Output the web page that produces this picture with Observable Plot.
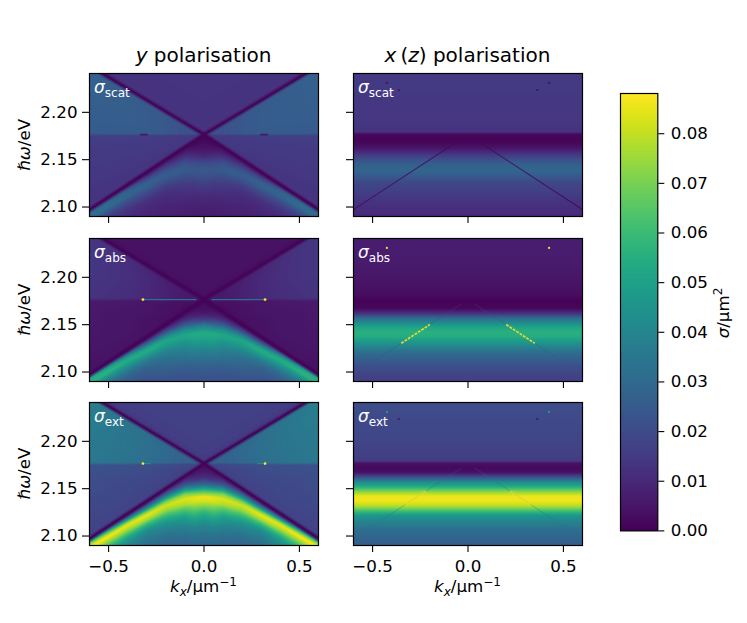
<!DOCTYPE html>
<html><head><meta charset="utf-8">
<script src="https://cdn.jsdelivr.net/npm/d3@7"></script>
<script src="https://cdn.jsdelivr.net/npm/@observablehq/plot@0.6"></script>
<style>
body{margin:0;background:#fff;}
#fig{position:relative;width:747px;height:623px;overflow:hidden;font-family:"DejaVu Sans";background:#fff;}
</style></head><body><div id="fig"></div>
<script>
// ---------- axes / tick data ----------
const VMAX = 88.1;                       // colour-bar top, in 10^-3 µm²
const kRange = [-0.6, 0.6];              // k_x / µm^-1
const eRange = [2.09, 2.241];            // ħω / eV
const xTicks = [-0.5, 0, 0.5];
const yTicks = [2.10, 2.15, 2.20];
const cbTicks = [0, 0.01, 0.02, 0.03, 0.04, 0.05, 0.06, 0.07, 0.08];

// ---------- dispersion lines (k, ħω) ----------
const lineK  = [-0.6, 0, 0.6];
const upperE = [2.2491, 2.1765, 2.2491];
const lowerE = [2.0973, 2.1765, 2.0973];

// ---------- y polarisation: values in 10^-3 µm² ----------
// bright band below the lower line: distance of its centre below that line, per |k|
const K = [0, 0.05, 0.1, 0.2, 0.3, 0.4, 0.5, 0.6];
const bandGap = [0.035, 0.029, 0.0245, 0.018, 0.0147, 0.012, 0.011, 0.010];
// between lower line and band centre: rows t = 0 (line) .. 1 (band centre)
const T_ROWS = [0, 0.2, 0.4, 0.6, 0.8, 1];
// below the band centre: rows d = distance below band centre / eV
const D_ROWS = [0, 0.005, 0.01, 0.015, 0.02, 0.03, 0.04, 0.06, 0.09];
const gapScatY = [
  [2, 2, 4, 8, 17, 24], [2, 3, 7, 13, 20, 24], [3, 6, 12, 19, 24, 25], [4, 9, 15, 21, 25, 25],
  [3, 8, 16, 23, 27, 27], [3, 12, 21, 27, 28, 28], [3, 18, 27, 30, 30, 30], [4, 24, 29, 31, 31, 31]
];
const tailScatY = [
  [24, 24, 21, 18, 15, 11, 8, 6, 6], [24, 23, 20, 16, 14, 10, 8, 6, 6], [25, 22, 18, 15, 13, 10, 8, 6, 6],
  [25, 21, 16, 13, 11, 9, 8, 7, 6], [27, 22, 17, 13, 11, 9, 8, 7, 6], [28, 22, 17, 13, 11, 9, 8, 7, 6],
  [30, 22, 16, 13, 11, 9, 8, 7, 6], [31, 22, 16, 13, 11, 9, 8, 7, 6]
];
const gapAbsY = [
  [2, 3, 5, 15, 40, 54], [2, 4, 9, 22, 40, 54], [3, 6, 15, 30, 45, 53], [3, 9, 20, 35, 48, 53],
  [3, 10, 22, 38, 50, 55], [3, 14, 30, 45, 53, 54], [4, 24, 42, 53, 56, 56], [6, 35, 50, 56, 56, 56]
];
const tailAbsY = [
  [54, 52, 47, 42, 37, 30, 25, 19, 18], [54, 52, 47, 43, 38, 30, 24, 19, 18], [53, 48, 43, 38, 35, 28, 23, 19, 18],
  [52, 47, 40, 35, 31, 26, 22, 18, 17], [55, 47, 37, 30, 26, 22, 20, 18, 17], [54, 45, 36, 29, 25, 22, 20, 18, 17],
  [56, 43, 34, 28, 25, 22, 20, 18, 17], [56, 42, 33, 28, 25, 22, 20, 18, 17]
];
const gapExtY = [
  [4, 5, 10, 26, 58, 86], [4, 7, 15, 34, 63, 85], [6, 12, 26, 50, 73, 84], [7, 17, 33, 53, 73, 82],
  [5, 15, 30, 52, 72, 86], [5, 17, 32, 55, 75, 85], [6, 26, 48, 67, 80, 88], [8, 33, 58, 74, 84, 88]
];
const tailExtY = [
  [86, 82, 71, 60, 52, 40, 33, 25, 23], [85, 82, 72, 63, 55, 42, 34, 26, 23], [84, 78, 66, 56, 48, 38, 31, 25, 23],
  [82, 74, 61, 51, 43, 34, 29, 25, 23], [86, 76, 58, 46, 39, 32, 28, 25, 23], [85, 76, 60, 49, 42, 35, 31, 27, 24],
  [88, 74, 60, 50, 43, 36, 32, 28, 25], [88, 74, 60, 50, 43, 36, 32, 28, 25]
];
// region between the two lines: rows s = 0 (lower line) .. 1 (upper line)
const SIDE_K = [0.1, 0.2, 0.3, 0.4, 0.5, 0.6];
const SIDE_S = [0, 0.2, 0.4, 0.51, 0.53, 0.7, 0.85, 1];
const sideScatY = [
  [13, 14, 15, 16, 22, 22, 22, 21], [13, 14, 15, 16, 24, 24, 24, 23], [13, 14, 15, 16, 25, 25, 25, 24],
  [13, 14, 15, 16, 25, 26, 26, 25], [13, 14, 15, 16, 25, 26, 26, 26], [13, 14, 15, 16, 25, 26, 27, 27]
];
const sideAbsY = [
  [3, 3, 4, 4, 6, 6, 6, 5], [3, 4, 4, 5, 8, 8, 8, 7], [4, 4, 5, 5, 10, 10, 10, 9],
  [4, 5, 5, 6, 11, 12, 12, 11], [4, 5, 5, 6, 12, 13, 13, 13], [4, 5, 6, 6, 13, 14, 14, 14]
];
const sideExtY = [
  [16, 17, 19, 20, 27, 27, 27, 25], [16, 18, 19, 21, 29, 30, 30, 28], [17, 18, 20, 21, 31, 32, 32, 31],
  [17, 19, 20, 22, 33, 34, 34, 33], [17, 19, 20, 22, 34, 35, 36, 35], [17, 19, 21, 22, 35, 36, 37, 37]
];
// region above the upper line: rows w = ħω - upper line
const TOP_W = [0, 0.01, 0.03, 0.07];
const topScatY = [12, 13, 13, 14];
const topAbsY = [3, 4, 4, 4];
const topExtY = [14, 16, 17, 17];

// ---------- x (z) polarisation: profiles along ħω (k independent) ----------
const RIGHT_E = [2.245, 2.23, 2.21, 2.19, 2.182, 2.179, 2.177, 2.172, 2.167, 2.162, 2.157, 2.152, 2.147, 2.142, 2.137, 2.132, 2.127, 2.122, 2.115, 2.105, 2.095, 2.085];
const scatX = [15, 15, 14, 14, 13, 12, 2, 1, 2, 5, 12, 19, 25, 28, 28, 24, 20, 18, 16, 13, 11, 10];
const absX  = [7, 7, 6, 4, 3, 2, 1, 1, 2, 12, 30, 42, 52, 56, 54, 47, 40, 33, 27, 21, 17, 16];
const extX  = [21, 20, 19, 17, 16, 14, 4, 2, 4, 22, 42, 55, 72, 86, 86, 79, 63, 47, 39, 31, 27, 25];

// ---------- small features ----------
const hDashScat = [0.295, 0.335];        // dark dash at the crossing energy
const hLineAbs  = [0.04, 0.32];
const hLineExt  = [0.28, 0.32];
const hSpotK    = [0.32];
const rightLineSpan = [0.035, 0.6];      // lower line seen in x(z) panels
const absStreak = [0.20, 0.35];
const extStreak = [0.22, 0.33];
const spotK = [0.425, 0.363];
const spotE = [2.231, 2.2235];
const spotScat = [3, 3], spotAbs = [88, 8], spotExt = [50, 5];

// ---------- helpers ----------
const E0 = upperE[1];
const sU = (upperE[2] - E0) / lineK[2];
const sL = (E0 - lowerE[2]) / lineK[2];
function interp(xs, ys, x) {
  const n = xs.length, inc = xs[n - 1] > xs[0];
  if (inc ? x <= xs[0] : x >= xs[0]) return ys[0];
  if (inc ? x >= xs[n - 1] : x <= xs[n - 1]) return ys[n - 1];
  for (let i = 1; i < n; i++) {
    if (inc ? x <= xs[i] : x >= xs[i]) {
      const t = (x - xs[i - 1]) / (xs[i] - xs[i - 1]);
      return ys[i - 1] + t * (ys[i] - ys[i - 1]);
    }
  }
  return ys[n - 1];
}
function grid(cols, rows, table, c, r) {
  return interp(cols, table.map(col => interp(rows, col, r)), c);
}
function leftField(gapT, tailT, side, top) {
  return (k, E) => {
    const a = Math.abs(k);
    const L = E0 - sL * a, U = E0 + sU * a;
    if (E <= L) {
      const g = interp(K, bandGap, a), Eb = L - g;
      if (E >= Eb) return grid(K, T_ROWS, gapT, a, (L - E) / g);
      return grid(K, D_ROWS, tailT, a, Eb - E);
    }
    if (E <= U && U > L) return grid(SIDE_K, SIDE_S, side, a, (E - L) / (U - L));
    return interp(TOP_W, top, E - U);
  };
}
function rightField(profile) { return (k, E) => interp(RIGHT_E, profile, E); }
const lowerAt = a => E0 - sL * a;
function mirrorH(span, v) {
  return [{k1: -span[1], k2: -span[0], e1: E0, e2: E0, v}, {k1: span[0], k2: span[1], e1: E0, e2: E0, v}];
}
function mirrorDiag(span, v) {
  return [{k1: -span[1], k2: -span[0], e1: lowerAt(span[1]), e2: lowerAt(span[0]), v},
          {k1: span[0], k2: span[1], e1: lowerAt(span[0]), e2: lowerAt(span[1]), v}];
}
const lineData = lineK.map((k, i) => ({k, up: upperE[i], lo: lowerE[i]}));
const seg = (d, o) => Plot.link(d, {x1: "k1", x2: "k2", y1: "e1", y2: "e2", stroke: "v", clip: true, ...o});

function xLines() {
  const out = [];
  for (const y of ["up", "lo"]) {
    out.push(Plot.line(lineData, {x: "k", y, stroke: () => 1, strokeWidth: 5.5, strokeOpacity: 0.35, clip: true}));
    out.push(Plot.line(lineData, {x: "k", y, stroke: () => 1, strokeWidth: 2.4, strokeOpacity: 0.95, clip: true}));
  }
  return out;
}

const W = 229, H = 143, ML = 70, MR = 6, MT = 6, MB = 50;
const colX = [89, 353], rowY = [73.3, 238, 402];
const fig = document.getElementById("fig");
function place(el, left, top) {
  el.style.position = "absolute"; el.style.left = left + "px"; el.style.top = top + "px";
  el.style.margin = "0"; el.style.maxWidth = "none"; fig.appendChild(el);
}
const baseStyle = {background: "transparent", fontFamily: "DejaVu Sans", fontSize: "16.7px", color: "black", overflow: "visible"};

function panel(field, extras, col, row) {
  const showX = row === 2, showY = col === 0;
  const svg = Plot.plot({
    width: W + ML + MR, height: H + MT + MB,
    marginLeft: ML, marginRight: MR, marginTop: MT, marginBottom: MB,
    style: baseStyle,
    x: {domain: kRange},
    y: {domain: eRange},
    color: {type: "linear", scheme: "viridis", domain: [0, VMAX], clamp: true},
    marks: [
      Plot.raster({fill: field, x1: kRange[0], x2: kRange[1], y1: eRange[0], y2: eRange[1], pixelSize: 1}),
      ...extras,
      Plot.frame({stroke: "black", strokeWidth: 1.2}),
      Plot.axisX({ticks: xTicks, tickSize: 7, tickPadding: 8, strokeWidth: 1.1,
        tickFormat: showX ? d3.format(".1f") : () => "", label: null}),
      Plot.axisY({ticks: yTicks, tickSize: 7, tickPadding: 5, strokeWidth: 1.1,
        tickFormat: showY ? d3.format(".2f") : () => "", label: null})
    ]
  });
  place(svg, colX[col] - ML, rowY[row] - MT);
}

// y polarisation
panel(leftField(gapScatY, tailScatY, sideScatY, topScatY), [
  ...xLines(),
  seg(mirrorH(hDashScat, 1), {strokeWidth: 1.6, strokeOpacity: 0.75})
], 0, 0);
panel(leftField(gapAbsY, tailAbsY, sideAbsY, topAbsY), [
  ...xLines(),
  seg(mirrorH(hLineAbs, 36), {strokeWidth: 1.4, strokeOpacity: 0.9}),
  Plot.dot(hSpotK.flatMap(k => [{k: -k, e: E0, v: 88}, {k, e: E0, v: 88}]), {x: "k", y: "e", fill: "v", r: 1.4})
], 0, 1);
panel(leftField(gapExtY, tailExtY, sideExtY, topExtY), [
  ...xLines(),
  seg(mirrorH(hLineExt, 45), {strokeWidth: 1.3, strokeOpacity: 0.8}),
  Plot.dot(hSpotK.flatMap(k => [{k: -k, e: E0, v: 88}, {k, e: E0, v: 88}]), {x: "k", y: "e", fill: "v", r: 1.3})
], 0, 2);

// x (z) polarisation
function spots(vals) {
  return Plot.dot(spotK.flatMap((k, i) => [{k: -k, e: spotE[i], v: vals[i]}, {k, e: spotE[i], v: vals[i]}]),
    {x: "k", y: "e", fill: "v", r: 1.1});
}
panel(rightField(scatX), [
  seg(mirrorDiag(rightLineSpan, 2), {strokeWidth: 1.1, strokeOpacity: 0.8}),
  spots(spotScat)
], 1, 0);
panel(rightField(absX), [
  seg(mirrorDiag(rightLineSpan, 20), {strokeWidth: 1, strokeOpacity: 0.35}),
  seg(mirrorDiag(absStreak, 88), {strokeWidth: 1.7, strokeOpacity: 0.85, strokeDasharray: "3,1"}),
  spots(spotAbs)
], 1, 1);
panel(rightField(extX), [
  seg(mirrorDiag(rightLineSpan, 30), {strokeWidth: 1, strokeOpacity: 0.35}),
  seg(mirrorDiag(extStreak, 88), {strokeWidth: 2, strokeOpacity: 0.5}),
  spots(spotExt)
], 1, 2);

// colour bar
const cb = Plot.plot({
  width: 37.3 + 2 + 60, height: 437.4 + 6 + 12,
  marginLeft: 2, marginRight: 60, marginTop: 6, marginBottom: 12,
  style: baseStyle,
  x: {domain: [0, 1], axis: null},
  y: {domain: [0, VMAX / 1000]},
  color: {type: "linear", scheme: "viridis", domain: [0, VMAX], clamp: true},
  marks: [
    Plot.raster({fill: (x, y) => y * 1000, x1: 0, x2: 1, y1: 0, y2: VMAX / 1000, width: 1, height: 440}),
    Plot.frame({stroke: "black", strokeWidth: 1.2}),
    Plot.axisY({anchor: "right", ticks: cbTicks, tickSize: 6, tickPadding: 7, strokeWidth: 1.1,
      tickFormat: d3.format(".2f"), label: null})
  ]
});
place(cb, 620 - 2, 93.3 - 6);

// ---------- text overlay ----------
const ov = d3.create("svg").attr("width", 747).attr("height", 623)
  .style("position", "absolute").style("left", "0px").style("top", "0px")
  .style("pointer-events", "none").attr("font-family", "DejaVu Sans");
function rich(parts, attrs) {
  const t = ov.append("text");
  for (const [a, v] of Object.entries(attrs)) t.attr(a, v);
  for (const p of parts) {
    const s = t.append("tspan").text(p.t);
    if (p.i) s.attr("font-style", "italic");
    if (p.s) s.attr("font-size", p.s);
    if (p.dy) s.attr("dy", p.dy);
  }
  return t;
}
rich([{t: "y", i: 1}, {t: " polarisation"}], {x: 203.5, y: 61.5, "text-anchor": "middle", "font-size": 20});
rich([{t: "x", i: 1}, {t: "\u2009("}, {t: "z", i: 1}, {t: ") polarisation"}], {x: 467.5, y: 61.5, "text-anchor": "middle", "font-size": 20});
const rowC = rowY.map(y => y + H / 2);
for (const yc of rowC) {
  rich([{t: "ℏω", i: 1}, {t: "/eV"}], {transform: `translate(30,${yc}) rotate(-90)`, "text-anchor": "middle", "font-size": 16.7});
}
for (const xc of [203.5, 467.5]) {
  rich([{t: "k", i: 1}, {t: "x", i: 1, s: 12, dy: 3.5}, {t: "/μm", dy: -3.5}, {t: "−1", s: 12, dy: -6}],
    {x: xc, y: 592, "text-anchor": "middle", "font-size": 16.7});
}
rich([{t: "σ", i: 1}, {t: "/μm"}, {t: "2", s: 12, dy: -7}], {transform: "translate(729,313) rotate(-90)", "text-anchor": "middle", "font-size": 16.7});
const subs = ["scat", "abs", "ext"];
for (let c = 0; c < 2; c++) for (let r = 0; r < 3; r++) {
  rich([{t: "σ", i: 1}, {t: subs[r], s: 12, dy: 4}], {x: colX[c] + 5, y: rowY[r] + 20, fill: "white", "font-size": 17});
}
fig.appendChild(ov.node());
</script></body></html>
